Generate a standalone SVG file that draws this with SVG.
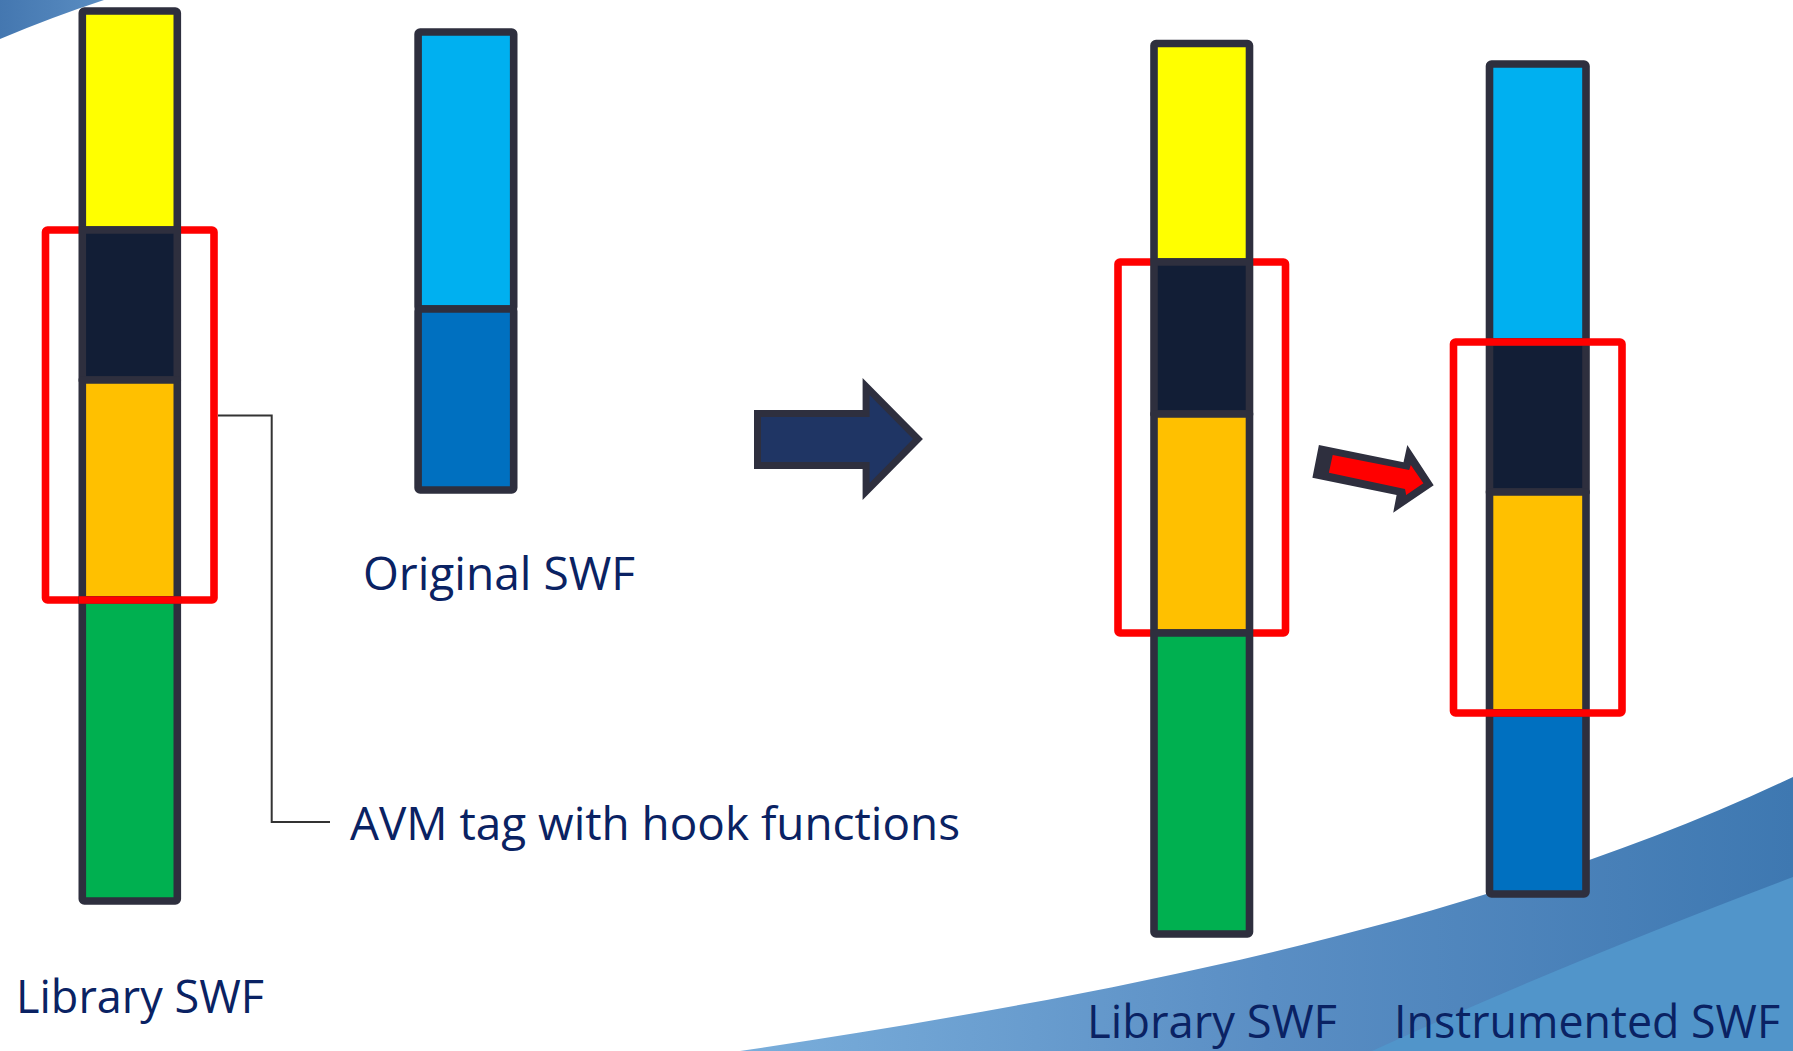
<svg xmlns="http://www.w3.org/2000/svg" width="1793" height="1051" viewBox="0 0 1793 1051">
  <style>
    .seg { stroke: #2E2F3E; stroke-width: 7.6; stroke-linejoin: round; }
    .yellow { fill: #FFFF00; }
    .navy { fill: #121E36; }
    .orange { fill: #FFC000; }
    .green { fill: #00B050; }
    .sky { fill: #00B0F0; }
    .blue { fill: #0070C0; }
    .frame { fill: none; stroke: #FF0000; stroke-width: 7.6; stroke-linejoin: round; }
    .label { font-family: "Open Sans", "Noto Sans", "Liberation Sans", sans-serif; font-size: 46px; fill: #0A2263; }
  </style>
  <defs>
    <linearGradient id="swoosh" gradientUnits="userSpaceOnUse" x1="740" y1="0" x2="1793" y2="0">
      <stop offset="0" stop-color="#7AAEDB"/>
      <stop offset="0.5" stop-color="#5A8EC4"/>
      <stop offset="1" stop-color="#3E78B1"/>
    </linearGradient>
    <linearGradient id="corner" x1="0" y1="0" x2="1" y2="0">
      <stop offset="0" stop-color="#4477B0"/>
      <stop offset="1" stop-color="#5A8DC2"/>
    </linearGradient>
  </defs>

  <!-- background -->
  <rect x="0" y="0" width="1793" height="1051" fill="#FFFFFF"/>
  <path d="M0,0 L104,0 Q52,17 0,39 Z" fill="url(#corner)"/>
  <path d="M740,1051 C1100,997 1480,925 1793,777 L1793,1051 Z" fill="url(#swoosh)"/>
  <path d="M1372,1051 Q1560,965 1793,877 L1793,1051 Z" fill="#5195CA"/>

  <!-- left library SWF -->
  <g id="library-left">
    <rect class="frame" x="45.5" y="230" width="168.5" height="370" rx="2"/>
    <rect class="seg yellow" x="82.3" y="11" width="95" height="219" rx="2"/>
    <rect class="seg navy" x="82.3" y="230" width="95" height="150"/>
    <rect class="seg orange" x="82.3" y="380" width="95" height="220"/>
    <rect class="seg green" x="82.3" y="600" width="95" height="301" rx="2"/>
    <line x1="78.5" y1="600" x2="181.2" y2="600" stroke="#FF0000" stroke-width="7.6"/>
  </g>

  <!-- original SWF -->
  <g id="original">
    <rect class="seg sky" x="418.1" y="32" width="95.6" height="277" rx="2"/>
    <rect class="seg blue" x="418.1" y="309" width="95.6" height="181" rx="2"/>
  </g>

  <!-- right library SWF -->
  <g id="library-right">
    <rect class="frame" x="1118" y="262" width="167.5" height="371" rx="2"/>
    <rect class="seg yellow" x="1154" y="43.5" width="95.5" height="218.5" rx="2"/>
    <rect class="seg navy" x="1154" y="262" width="95.5" height="152"/>
    <rect class="seg orange" x="1154" y="414" width="95.5" height="219"/>
    <rect class="seg green" x="1154" y="633" width="95.5" height="301" rx="2"/>
  </g>

  <!-- instrumented SWF -->
  <g id="instrumented">
    <rect class="seg sky" x="1489.5" y="64" width="96.5" height="278" rx="2"/>
    <rect class="seg navy" x="1489.5" y="342" width="96.5" height="150"/>
    <rect class="seg orange" x="1489.5" y="492" width="96.5" height="221"/>
    <rect class="seg blue" x="1489.5" y="713" width="96.5" height="181" rx="2"/>
    <rect class="frame" x="1453.5" y="342" width="168.5" height="371" rx="2"/>
  </g>

  <!-- labels -->
  <g id="labels">
    <text class="label" x="16" y="1013" textLength="248" lengthAdjust="spacingAndGlyphs">Library SWF</text>
    <text class="label" x="363" y="590" textLength="272" lengthAdjust="spacingAndGlyphs">Original SWF</text>
    <text class="label" x="350" y="839.5" textLength="610" lengthAdjust="spacingAndGlyphs">AVM tag with hook functions</text>
    <text class="label" x="1087" y="1038" textLength="250" lengthAdjust="spacingAndGlyphs">Library SWF</text>
    <text class="label" x="1394" y="1038" textLength="386" lengthAdjust="spacingAndGlyphs">Instrumented SWF</text>
  </g>

  <!-- connectors -->
  <g id="connectors">
    <polyline points="218,415.5 271.7,415.5 271.7,822 330,822" fill="none" stroke="#333333" stroke-width="2"/>
    <polygon points="757.5,413.5 866.1,413.5 866.1,386.5 918,439 866.1,491.5 866.1,465.5 757.5,465.5" fill="#1F3564" stroke="#2E2F3E" stroke-width="7" stroke-linejoin="miter"/>
    <polygon points="1318.9,445 1403.5,462.3 1407.3,445 1433.7,485.3 1393.2,512.7 1396.6,495 1312.4,477.7" fill="#2E2F3E"/>
    <polygon points="1332.7,455 1409.2,470 1410.8,465 1423.4,483.3 1406.2,495 1405,489 1328.9,472.7" fill="#FF0000"/>
  </g>
</svg>
